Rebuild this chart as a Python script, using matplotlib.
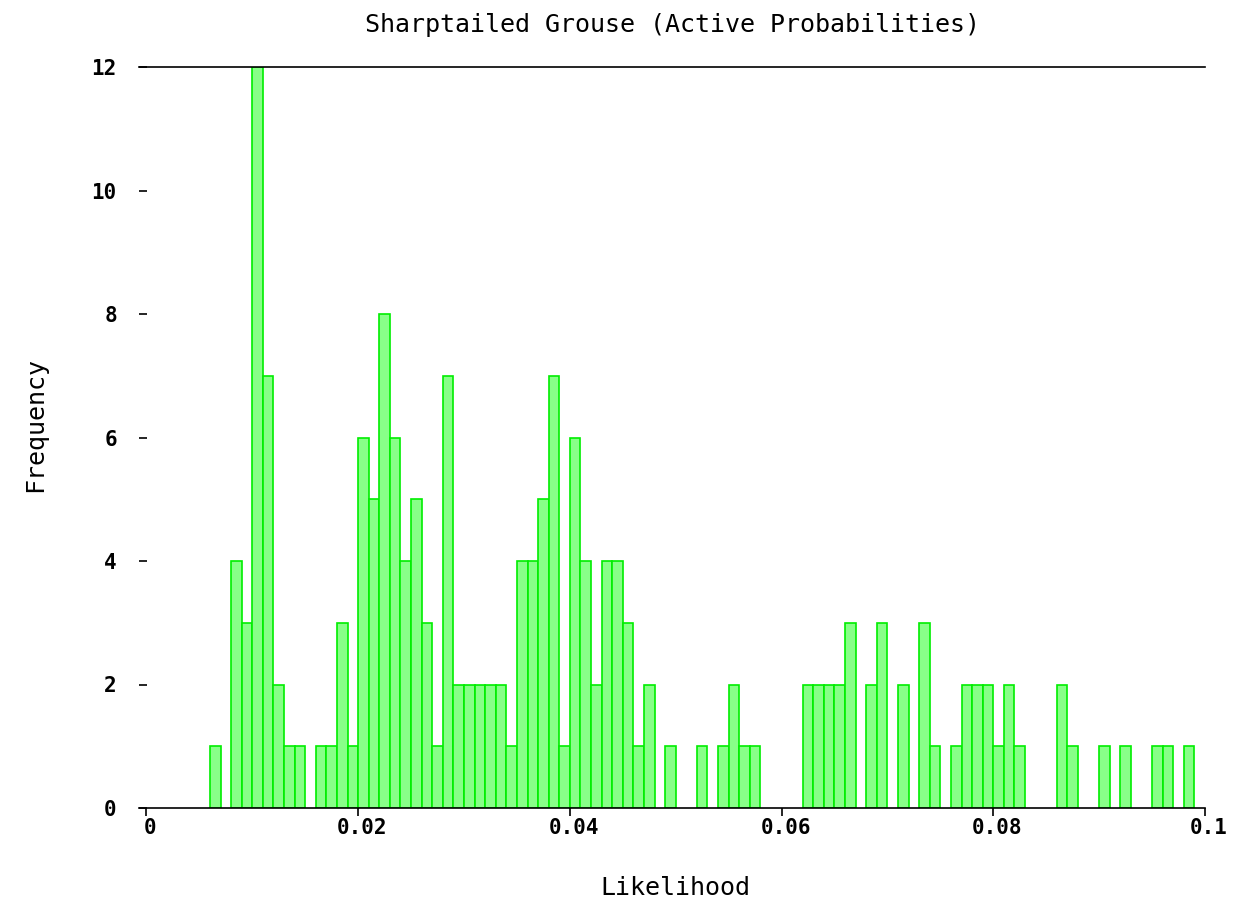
import numpy as np
import matplotlib
matplotlib.use("Agg")
import matplotlib.pyplot as plt
import matplotlib.transforms as mtransforms

# Histogram of likelihood values, bins of width 0.001 from 0 to 0.1
bin_width = 0.001
bin_counts = {
    6: 1,
    8: 4, 9: 3, 10: 12, 11: 7, 12: 2, 13: 1, 14: 1,
    16: 1, 17: 1, 18: 3, 19: 1, 20: 6, 21: 5, 22: 8, 23: 6, 24: 4, 25: 5,
    26: 3, 27: 1, 28: 7, 29: 2, 30: 2, 31: 2, 32: 2, 33: 2, 34: 1, 35: 4,
    36: 4, 37: 5, 38: 7, 39: 1, 40: 6, 41: 4, 42: 2, 43: 4, 44: 4, 45: 3,
    46: 1, 47: 2,
    49: 1,
    52: 1,
    54: 1, 55: 2, 56: 1, 57: 1,
    62: 2, 63: 2, 64: 2, 65: 2, 66: 3,
    68: 2, 69: 3,
    71: 2,
    73: 3, 74: 1,
    76: 1, 77: 2, 78: 2, 79: 2, 80: 1, 81: 2, 82: 1,
    86: 2, 87: 1,
    90: 1,
    92: 1,
    95: 1, 96: 1,
    98: 1,
}
bin_index = np.array(sorted(bin_counts))
frequency = np.array([bin_counts[i] for i in bin_index])
bin_left = bin_index * bin_width

x_ticks = [0, 0.02, 0.04, 0.06, 0.08, 0.1]
x_tick_labels = ["0", "0.02", "0.04", "0.06", "0.08", "0.1"]
y_ticks = [0, 2, 4, 6, 8, 10, 12]

title = "Sharptailed Grouse (Active Probabilities)"
x_label = "Likelihood"
y_label = "Frequency"

fig = plt.figure(figsize=(12.53, 9.08), dpi=100)
ax = fig.add_axes([139 / 1253, 1 - 808 / 908, (1205 - 139) / 1253, (808 - 67) / 908])

ax.bar(bin_left, frequency, width=bin_width, align="edge",
       facecolor="#88ff88", edgecolor="#00ee00", linewidth=1.2)

ax.set_xlim(-0.0007, 0.1)
ax.set_ylim(0, 12)

for side in ("left", "right"):
    ax.spines[side].set_visible(False)
for side in ("top", "bottom"):
    ax.spines[side].set_linewidth(1.2)
    ax.spines[side].set_color("black")

mono = "DejaVu Sans Mono"
ax.set_xticks(x_ticks)
ax.set_xticklabels(x_tick_labels, family=mono, fontsize=15, fontweight="bold")
ax.set_yticks(y_ticks)
ax.set_yticklabels([str(v) for v in y_ticks], family=mono, fontsize=15, fontweight="bold")
ax.tick_params(axis="x", direction="out", length=6, width=1.2, pad=1)
ax.tick_params(axis="y", direction="in", length=6, width=1.2, pad=16)

# nudge x tick labels slightly to the right of their ticks
shift = mtransforms.ScaledTranslation(4 / 100, 0, fig.dpi_scale_trans)
for lbl in ax.get_xticklabels():
    lbl.set_transform(lbl.get_transform() + shift)

fig.text(0.537, 0.972, title, ha="center", va="center", family=mono, fontsize=18)
fig.text(0.539, 0.022, x_label, ha="center", va="center", family=mono, fontsize=18)
fig.text(0.028, 0.532, y_label, ha="center", va="center", rotation=90,
         family=mono, fontsize=18)

fig.savefig("out.png", dpi=100)
